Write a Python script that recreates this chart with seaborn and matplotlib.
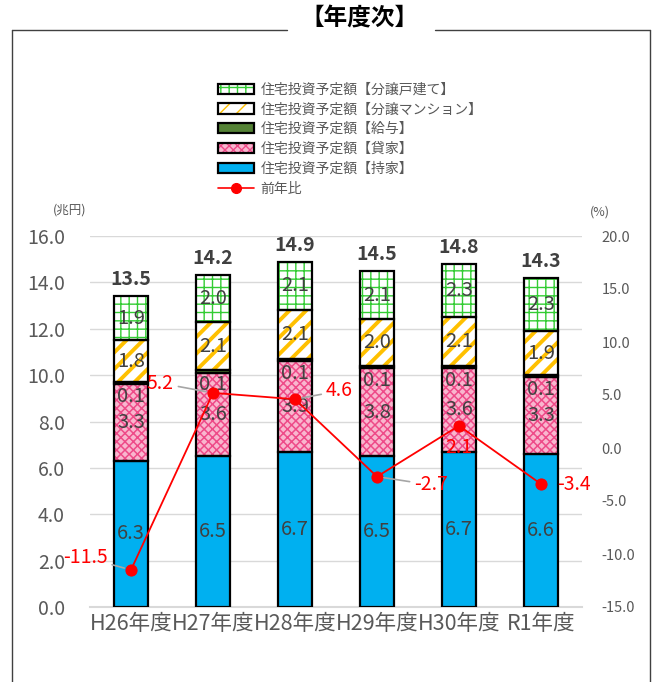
import numpy as np
import seaborn as sns
import matplotlib.pyplot as plt
from matplotlib.patches import Patch
from matplotlib.lines import Line2D

# --- データ ---
years = ['H26年度', 'H27年度', 'H28年度', 'H29年度', 'H30年度', 'R1年度']
mochiie = [6.3, 6.5, 6.7, 6.5, 6.7, 6.6]      # 持家
kashiya = [3.3, 3.6, 3.9, 3.8, 3.6, 3.3]      # 貸家
kyuyo = [0.1, 0.1, 0.1, 0.1, 0.1, 0.1]        # 給与
mansion = [1.8, 2.1, 2.1, 2.0, 2.1, 1.9]      # 分譲マンション
kodate = [1.9, 2.0, 2.1, 2.1, 2.3, 2.3]       # 分譲戸建て
totals = [13.5, 14.2, 14.9, 14.5, 14.8, 14.3]
yoy = [-11.5, 5.2, 4.6, -2.7, 2.1, -3.4]      # 前年比
left_ticks = [0, 2, 4, 6, 8, 10, 12, 14, 16]
right_ticks = [-15, -10, -5, 0, 5, 10, 15, 20]

names = ['住宅投資予定額【持家】', '住宅投資予定額【貸家】', '住宅投資予定額【給与】',
         '住宅投資予定額【分譲マンション】', '住宅投資予定額【分譲戸建て】']
values = [mochiie, kashiya, kyuyo, mansion, kodate]
# 塗り色, ハッチ, ハッチ色, ハッチ線幅
styles = [('#00B0F0', None, '#00B0F0', 1.0),
          ('#F9B6CE', 'xxxx', '#EE4A88', 1.1),
          ('#548235', None, '#548235', 1.0),
          ('white', '//', '#FFC000', 2.8),
          ('white', '++', '#33CC33', 1.0)]

sns.set_style('white')
plt.rcParams['font.family'] = ['Noto Sans CJK JP', 'DejaVu Sans']
plt.rcParams['hatch.linewidth'] = 1.0

fig = plt.figure(figsize=(6.57, 6.82), dpi=100)
ax = fig.add_axes([90 / 657, 1 - 607 / 682, 492 / 657, 371 / 682])

gray = '#595959'
bottom = np.zeros(len(years))
handles = []
for name, vals, (face, hatch, hcol, hlw) in zip(names, values, styles):
    with plt.rc_context({'hatch.linewidth': hlw}):
        sns.barplot(x=years, y=vals, ax=ax, bottom=bottom, color=face, saturation=1,
                    width=0.41, errorbar=None, hatch=hatch, edgecolor=hcol,
                    linewidth=0, zorder=2)
    sns.barplot(x=years, y=vals, ax=ax, bottom=bottom, color='black', fill=False,
                width=0.41, errorbar=None, linewidth=1.6, zorder=3)
    with plt.rc_context({'hatch.linewidth': hlw}):
        h1 = Patch(facecolor=face, hatch=hatch, edgecolor=hcol, linewidth=0)
    h2 = Patch(facecolor='none', edgecolor='black', linewidth=1.6)
    handles.append((h1, h2))

    for i, v in enumerate(vals):
        if name.endswith('【給与】'):
            ax.annotate(f'{v:.1f}', xy=(i, bottom[i]), xytext=(0, -1),
                        textcoords='offset points', ha='center', va='top',
                        fontsize=14.5, color='#404040', zorder=5)
        else:
            ax.text(i, bottom[i] + v / 2, f'{v:.1f}', ha='center', va='center',
                    fontsize=14.5, color='#404040', zorder=5)
    bottom = bottom + np.array(vals)

for i, t in enumerate(totals):
    ax.annotate(f'{t:.1f}', xy=(i, bottom[i]), xytext=(0, 5), textcoords='offset points',
                ha='center', va='bottom', fontsize=14, fontweight='bold', color='#404040')

ax.set_xlim(-0.5, len(years) - 0.5)
ax.set_ylim(0, 16)
ax.set_yticks(left_ticks)
ax.set_yticklabels([f'{t:.1f}' for t in left_ticks])
ax.grid(axis='y', color='#D9D9D9', linewidth=1)
ax.set_axisbelow(True)
for s in ['top', 'left', 'right']:
    ax.spines[s].set_visible(False)
ax.spines['bottom'].set_color('#D9D9D9')
ax.spines['bottom'].set_linewidth(1.5)
ax.tick_params(axis='y', length=0, labelsize=14, colors=gray, pad=18)
ax.tick_params(axis='x', length=0, labelsize=15.5, colors=gray, pad=4)
ax.set_xlabel('')
ax.set_ylabel('')

# --- 前年比 (右軸) ---
ax2 = ax.twinx()
pos = np.arange(len(years))
sns.lineplot(x=pos, y=yoy, ax=ax2, color='#FF0000', marker='o', markersize=8,
             markeredgecolor='#FF0000', linewidth=1.3, legend=False)
ax2.set_ylim(-15, 20)
ax2.set_yticks(right_ticks)
ax2.set_yticklabels([f'{t:.1f}' for t in right_ticks])
ax2.tick_params(axis='y', length=0, labelsize=10.5, colors=gray, pad=14)
ax2.set_ylabel('')
for s in ax2.spines.values():
    s.set_visible(False)

# ラベル位置 (points) と引き出し線の有無
offsets = [(-33, 9, True), (-38, 7, True), (32, 6, True), (39, -6, True),
           (0, -16, False), (24, 0, False)]
for i, (v, (dx, dy, leader)) in enumerate(zip(yoy, offsets)):
    ap = dict(arrowstyle='-', color='#A6A6A6', lw=1.2, shrinkA=1, shrinkB=5) if leader else None
    ax2.annotate(f'{v:.1f}', xy=(i, v), xytext=(dx, dy), textcoords='offset points',
                 ha='center', va='center', fontsize=14, color='#FF0000', arrowprops=ap)

handles = handles[::-1]
labels = names[::-1]
handles.append(Line2D([], [], color='#FF0000', marker='o', markersize=7, linewidth=1.2))
labels.append('前年比')
fig.legend(handles, labels, loc='upper left', bbox_to_anchor=(205 / 657, 1 - 70 / 682),
           frameon=False, fontsize=10, handlelength=2.6, handleheight=0.75,
           labelspacing=0.42, handletextpad=0.5, labelcolor=gray)

fig.text(70 / 657, 1 - 210 / 682, '(兆円)', ha='center', va='center', fontsize=9, color=gray)
fig.text(600 / 657, 1 - 212 / 682, '(%)', ha='center', va='center', fontsize=9, color=gray)

# 枠線とタイトル
fc = '#404040'
fig.add_artist(Line2D([12 / 657, 12 / 657], [0, 1 - 30 / 682], color=fc, lw=1))
fig.add_artist(Line2D([650 / 657, 650 / 657], [0, 1 - 30 / 682], color=fc, lw=1))
fig.add_artist(Line2D([12 / 657, 287 / 657], [1 - 30 / 682, 1 - 30 / 682], color=fc, lw=1))
fig.add_artist(Line2D([435 / 657, 650 / 657], [1 - 30 / 682, 1 - 30 / 682], color=fc, lw=1))
fig.text(360 / 657, 1 - 18 / 682, '【年度次】', ha='center', va='center', fontsize=17,
         fontweight='bold', color='black')

fig.savefig('out.png', dpi=100)
